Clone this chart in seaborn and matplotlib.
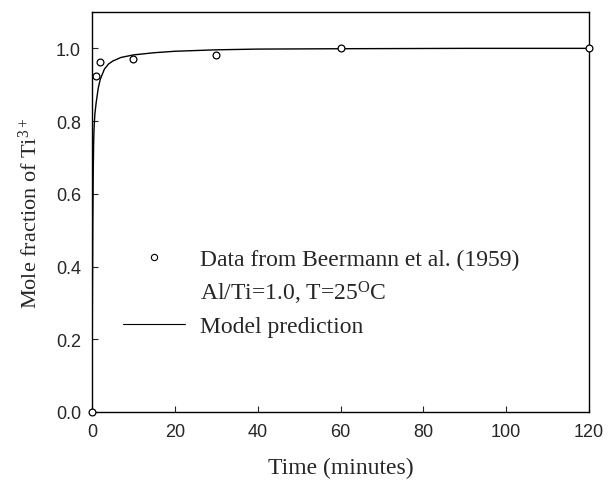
import matplotlib
matplotlib.use("Agg")
import matplotlib.pyplot as plt
from matplotlib.lines import Line2D
import seaborn as sns
import pandas as pd

# Measured Ti3+ mole fraction (Beermann et al., 1959)
data_time = [0, 1, 2, 10, 30, 60, 120]
data_frac = [0.0, 0.923, 0.962, 0.972, 0.983, 1.0, 1.0]

# Model prediction curve
model_time = [0, 0.1, 0.2, 0.3, 0.4, 0.5, 0.7, 1.0, 1.5, 2.0, 3.0, 4.0, 5.0,
              7.0, 10, 15, 20, 30, 40, 60, 90, 120]
model_frac = [0.0, 0.30, 0.52, 0.66, 0.74, 0.78, 0.82, 0.85, 0.89, 0.915,
              0.943, 0.957, 0.965, 0.975, 0.982, 0.988, 0.992, 0.996, 0.998,
              0.999, 1.0, 1.0]

x_ticks = [0, 20, 40, 60, 80, 100, 120]
y_ticks = [0.0, 0.2, 0.4, 0.6, 0.8, 1.0]

sns.set_style("ticks")
plt.rcParams["mathtext.fontset"] = "custom"
plt.rcParams["mathtext.rm"] = "Liberation Serif"
plt.rcParams["mathtext.it"] = "Liberation Serif:italic"

serif = "Liberation Serif"
sans = "Liberation Sans"

df_data = pd.DataFrame({"t": data_time, "f": data_frac})
df_model = pd.DataFrame({"t": model_time, "f": model_frac})

fig = plt.figure(figsize=(6.08, 4.85), dpi=100)
ax = fig.add_axes([0.1513, 0.1485, 0.8175, 0.8247])

sns.lineplot(data=df_model, x="t", y="f", ax=ax, color="black", linewidth=1.0)
sns.scatterplot(data=df_data, x="t", y="f", ax=ax, marker="o", s=24,
                facecolor="white", edgecolor="black", linewidth=0.9, zorder=3,
                clip_on=False)

ax.set_xlim(0, 120)
ax.set_ylim(0, 1.1)
ax.set_xticks(x_ticks)
ax.set_yticks(y_ticks)
ax.set_xticklabels([str(v) for v in x_ticks], fontfamily=sans, fontsize=13)
ax.set_yticklabels([f"{v:.1f}" for v in y_ticks], fontfamily=sans, fontsize=13)
ax.tick_params(direction="in", length=4, width=0.8)
ax.tick_params(axis="x", pad=8)
ax.tick_params(axis="y", pad=8)
for side in ["top", "right", "left", "bottom"]:
    ax.spines[side].set_visible(True)
    ax.spines[side].set_linewidth(1.0)
    ax.spines[side].set_color("black")

ax.set_xlabel("Time (minutes)", fontfamily=serif, fontsize=17, labelpad=12)
ax.set_ylabel(r"Mole fraction of Ti$^{3+}$", fontfamily=serif, fontsize=16,
              labelpad=10)

handles = [
    Line2D([], [], marker="o", linestyle="none", markersize=4.5,
           markerfacecolor="white", markeredgecolor="black", markeredgewidth=0.8),
    Line2D([], [], linestyle="none"),
    Line2D([], [], color="black", linewidth=0.8),
]
labels = [
    "Data from Beermann et al. (1959)",
    r"Al/Ti=1.0, T=25$^{\rm O}$C",
    "Model prediction",
]
ax.legend(handles, labels, loc="upper left", bbox_to_anchor=(0.062, 0.408),
          frameon=False, handlelength=2.63, handletextpad=0.63,
          labelspacing=0.38, borderpad=0, borderaxespad=0,
          prop={"family": serif, "size": 17})

fig.savefig("out.png", dpi=100)
